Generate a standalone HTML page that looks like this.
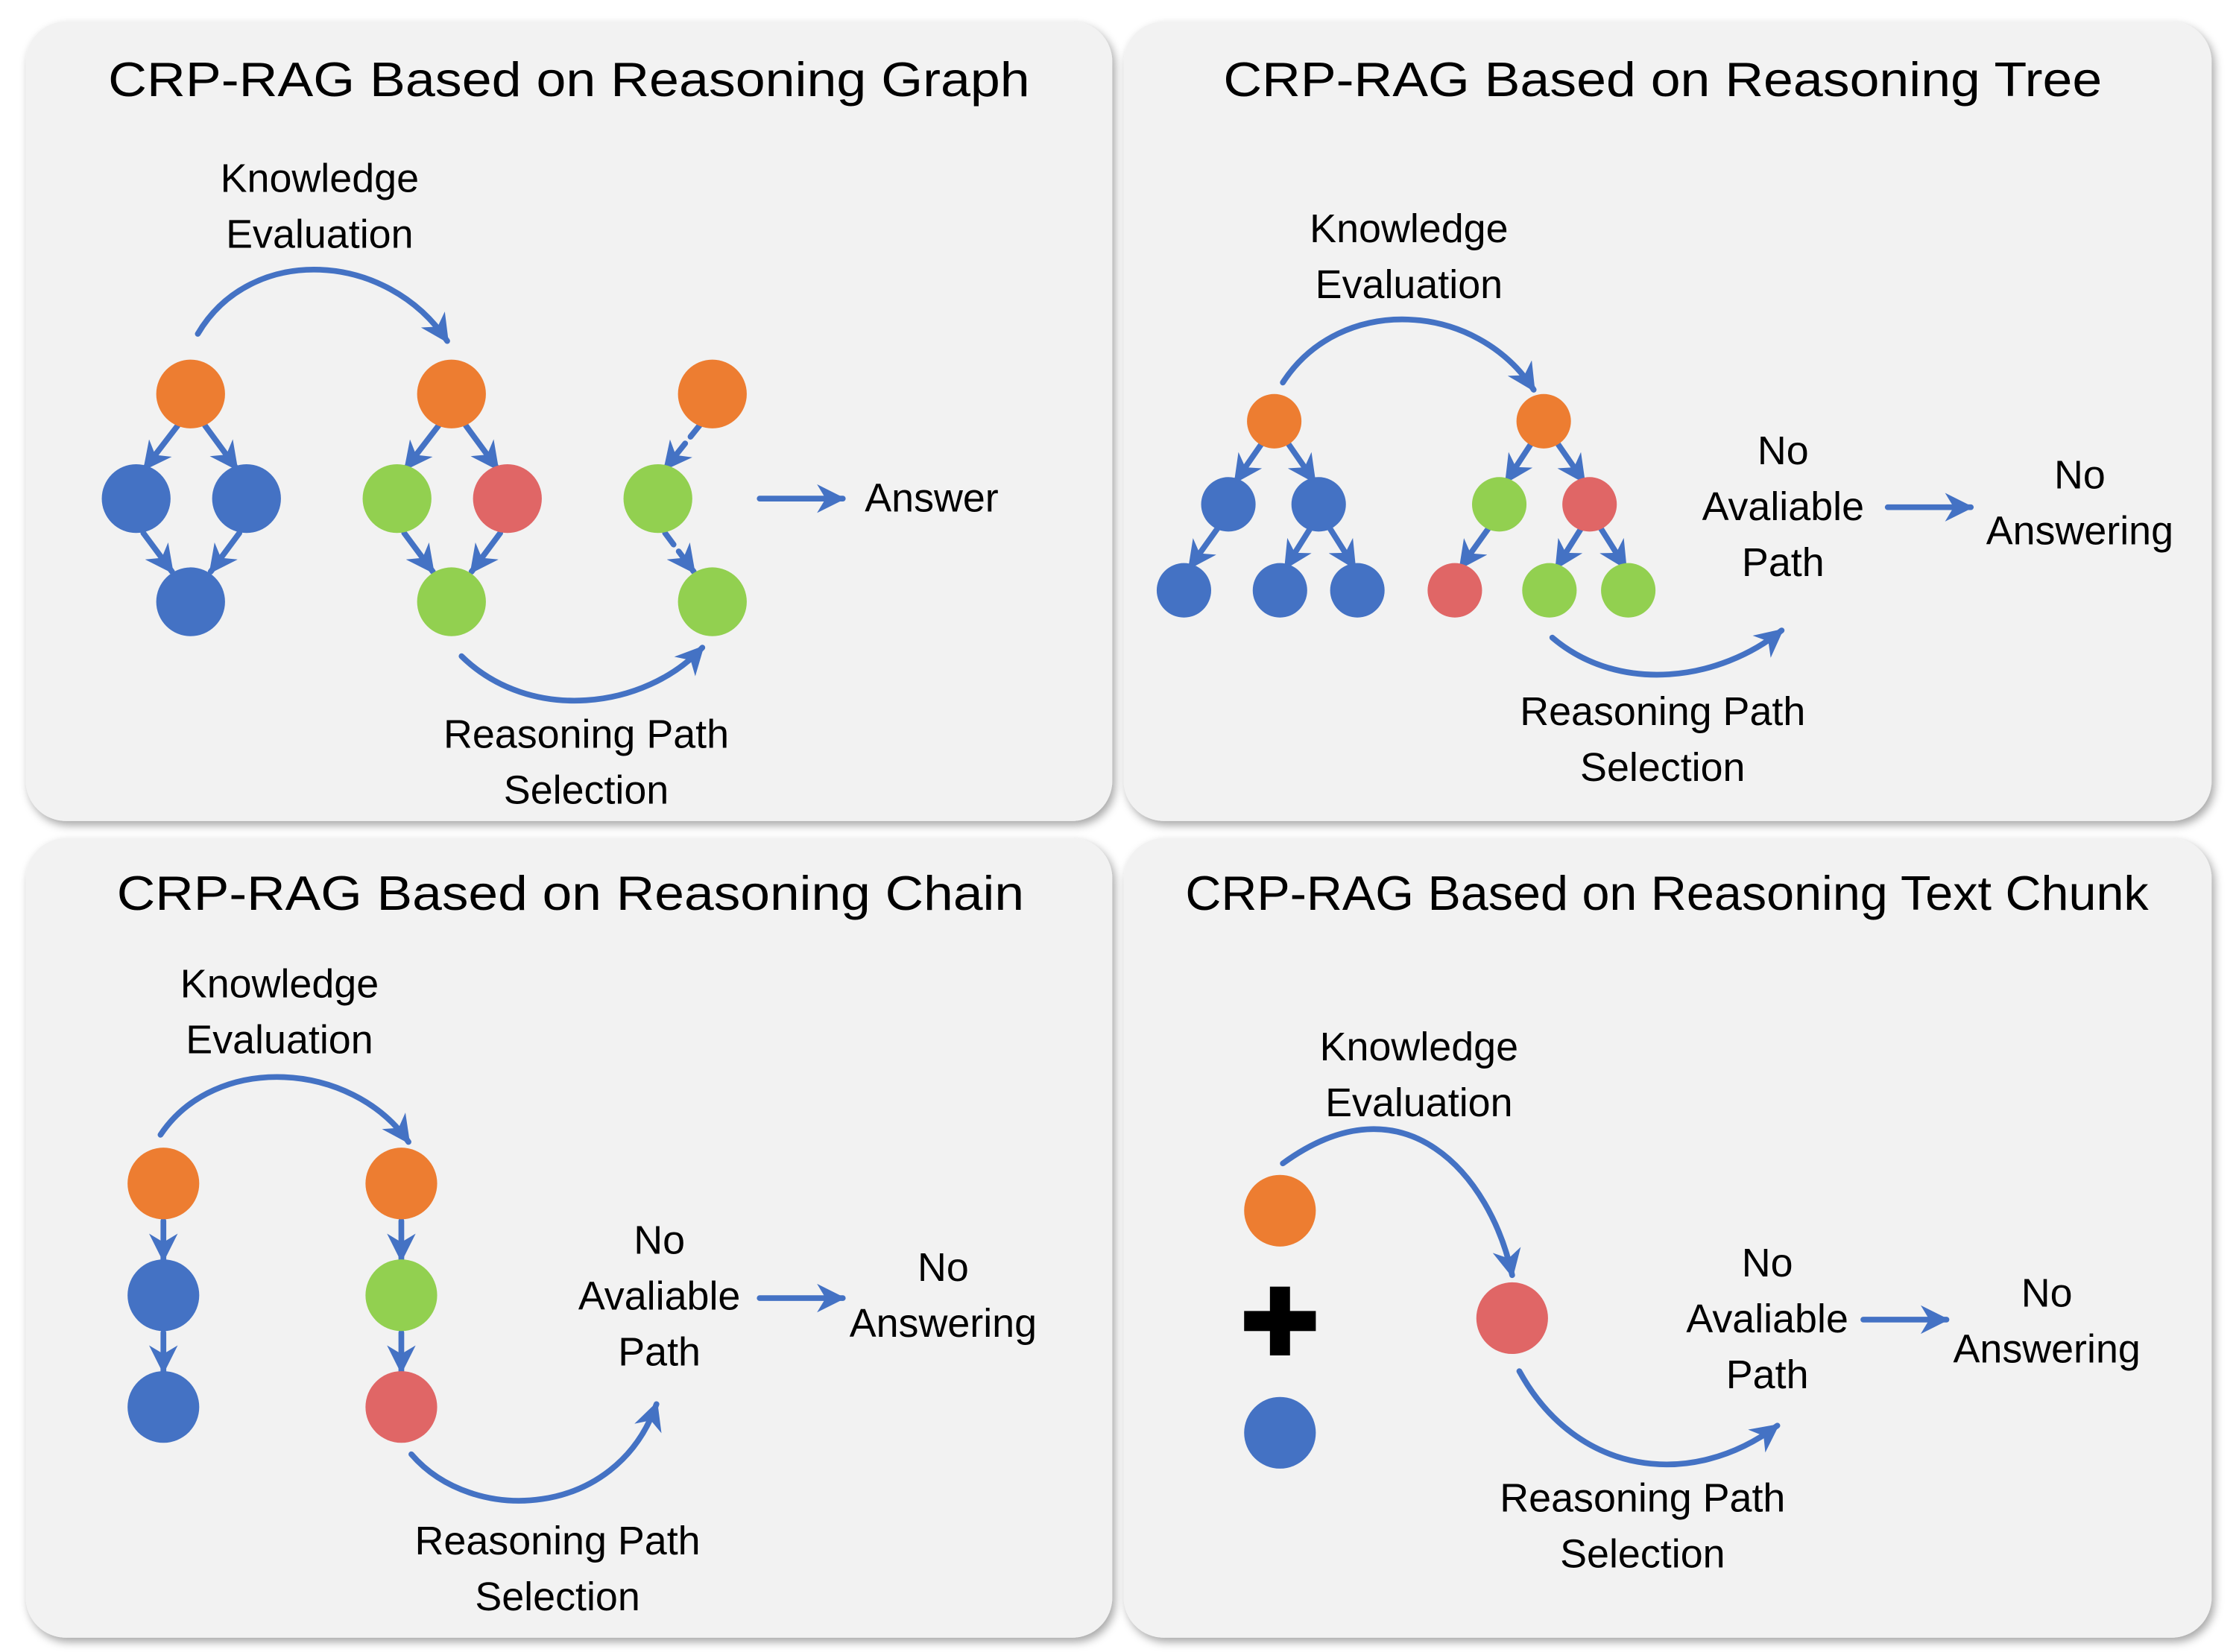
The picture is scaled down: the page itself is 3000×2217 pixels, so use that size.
<!DOCTYPE html>
<html><head><meta charset="utf-8"><style>
html,body{margin:0;padding:0;background:#fff;}
svg{display:block;}
text{font-family:"Liberation Sans",sans-serif;fill:#000;}
.t{font-size:34px;}
.l{font-size:28px;}
</style></head><body>
<svg width="3000" height="2217" viewBox="0 0 1560 1153" preserveAspectRatio="none" xmlns="http://www.w3.org/2000/svg">
<defs>
<marker id="a" viewBox="0 0 10 10" refX="9" refY="5" markerWidth="5" markerHeight="5" orient="auto" markerUnits="strokeWidth"><path d="M0,0 L10,5 L0,10 L3,5 z" fill="#4472c4"/></marker>
<filter id="sh" x="-5%" y="-5%" width="110%" height="110%"><feDropShadow dx="2" dy="3" stdDeviation="3" flood-color="#000" flood-opacity="0.35"/></filter>
</defs>
<rect width="1560" height="1153" fill="#fff"/>
<g fill="#f2f2f2" filter="url(#sh)">
<rect x="18" y="15" width="758" height="558" rx="28"/>
<rect x="784" y="15" width="759" height="558" rx="28"/>
<rect x="18" y="585" width="758" height="558" rx="28"/>
<rect x="784" y="585" width="759" height="558" rx="28"/>
</g>
<g class="t" text-anchor="middle">
<text x="397" y="67" textLength="643" lengthAdjust="spacingAndGlyphs">CRP-RAG Based on Reasoning Graph</text>
<text x="1160" y="67" textLength="613" lengthAdjust="spacingAndGlyphs">CRP-RAG Based on Reasoning Tree</text>
<text x="398" y="635" textLength="633" lengthAdjust="spacingAndGlyphs">CRP-RAG Based on Reasoning Chain</text>
<text x="1163" y="635" textLength="672" lengthAdjust="spacingAndGlyphs">CRP-RAG Based on Reasoning Text Chunk</text>
</g>
<g class="l" text-anchor="middle">
<text x="223" y="134">Knowledge</text><text x="223" y="173">Evaluation</text>
<text x="409" y="522">Reasoning Path</text><text x="409" y="561">Selection</text>
<text x="650" y="357">Answer</text>
<text x="983" y="169">Knowledge</text><text x="983" y="208">Evaluation</text>
<text x="1160" y="506">Reasoning Path</text><text x="1160" y="545">Selection</text>
<text x="1244" y="324">No</text><text x="1244" y="363">Avaliable</text><text x="1244" y="402">Path</text>
<text x="1451" y="341">No</text><text x="1451" y="380">Answering</text>
<text x="195" y="696">Knowledge</text><text x="195" y="735">Evaluation</text>
<text x="389" y="1085">Reasoning Path</text><text x="389" y="1124">Selection</text>
<text x="460" y="875">No</text><text x="460" y="914">Avaliable</text><text x="460" y="953">Path</text>
<text x="658" y="894">No</text><text x="658" y="933">Answering</text>
<text x="990" y="740">Knowledge</text><text x="990" y="779">Evaluation</text>
<text x="1146" y="1055">Reasoning Path</text><text x="1146" y="1094">Selection</text>
<text x="1233" y="891">No</text><text x="1233" y="930">Avaliable</text><text x="1233" y="969">Path</text>
<text x="1428" y="912">No</text><text x="1428" y="951">Answering</text>
</g>
<g fill="none" stroke="#4472c4" stroke-width="4" marker-end="url(#a)" stroke-linecap="round">
<path d="M138,233 C175,170 270,175 312,238"/>
<path d="M322,458 C370,505 450,495 490,452"/>
<path d="M530,348 L588,348"/>
<path d="M124,297 L101,327"/><path d="M143,297 L165,327"/>
<path d="M100,372 L120,399"/><path d="M167,372 L147,399"/>
<path d="M306,297 L283,327"/><path d="M325,297 L347,327"/>
<path d="M282,372 L302,399"/><path d="M349,372 L329,399"/>
<path d="M488,297 L464,327" stroke-dasharray="10,6"/>
<path d="M464,372 L484,399" stroke-dasharray="10,6"/>
<path d="M895,267 C935,205 1030,210 1070,272"/>
<path d="M1083,445 C1130,485 1200,475 1243,440"/>
<path d="M1317,354 L1375,354"/>
<path d="M880,310 L862,336"/><path d="M899,310 L917,336"/>
<path d="M850,368 L830,396"/><path d="M914,369 L897,396"/><path d="M928,369 L945,396"/>
<path d="M1068,310 L1051,336"/><path d="M1087,310 L1105,336"/>
<path d="M1039,368 L1019,396"/><path d="M1103,369 L1086,396"/><path d="M1117,369 L1134,396"/>
<path d="M112,792 C150,735 245,740 285,797"/>
<path d="M287,1015 C330,1065 430,1060 458,980"/>
<path d="M530,906 L588,906"/>
<path d="M114,852 L114,879"/><path d="M114,930 L114,957"/>
<path d="M280,852 L280,879"/><path d="M280,930 L280,957"/>
<path d="M895,812 C980,750 1040,820 1055,890"/>
<path d="M1060,957 C1100,1030 1180,1040 1240,995"/>
<path d="M1300,921 L1358,921"/>
</g>
<g>
<circle cx="133" cy="275" r="24" fill="#ed7d31"/>
<circle cx="95" cy="348" r="24" fill="#4472c4"/><circle cx="172" cy="348" r="24" fill="#4472c4"/>
<circle cx="133" cy="420" r="24" fill="#4472c4"/>
<circle cx="315" cy="275" r="24" fill="#ed7d31"/>
<circle cx="277" cy="348" r="24" fill="#92d050"/><circle cx="354" cy="348" r="24" fill="#e06666"/>
<circle cx="315" cy="420" r="24" fill="#92d050"/>
<circle cx="497" cy="275" r="24" fill="#ed7d31"/>
<circle cx="459" cy="348" r="24" fill="#92d050"/>
<circle cx="497" cy="420" r="24" fill="#92d050"/>
<circle cx="889" cy="294" r="19" fill="#ed7d31"/>
<circle cx="857" cy="352" r="19" fill="#4472c4"/><circle cx="920" cy="352" r="19" fill="#4472c4"/>
<circle cx="826" cy="412" r="19" fill="#4472c4"/><circle cx="893" cy="412" r="19" fill="#4472c4"/><circle cx="947" cy="412" r="19" fill="#4472c4"/>
<circle cx="1077" cy="294" r="19" fill="#ed7d31"/>
<circle cx="1046" cy="352" r="19" fill="#92d050"/><circle cx="1109" cy="352" r="19" fill="#e06666"/>
<circle cx="1015" cy="412" r="19" fill="#e06666"/><circle cx="1081" cy="412" r="19" fill="#92d050"/><circle cx="1136" cy="412" r="19" fill="#92d050"/>
<circle cx="114" cy="826" r="25" fill="#ed7d31"/>
<circle cx="114" cy="904" r="25" fill="#4472c4"/>
<circle cx="114" cy="982" r="25" fill="#4472c4"/>
<circle cx="280" cy="826" r="25" fill="#ed7d31"/>
<circle cx="280" cy="904" r="25" fill="#92d050"/>
<circle cx="280" cy="982" r="25" fill="#e06666"/>
<circle cx="893" cy="845" r="25" fill="#ed7d31"/>
<circle cx="893" cy="1000" r="25" fill="#4472c4"/>
<circle cx="1055" cy="920" r="25" fill="#e06666"/>
<rect x="886" y="898" width="14" height="48" fill="#000"/>
<rect x="868" y="915" width="50" height="14" fill="#000"/>
</g>
</svg>
</body></html>
